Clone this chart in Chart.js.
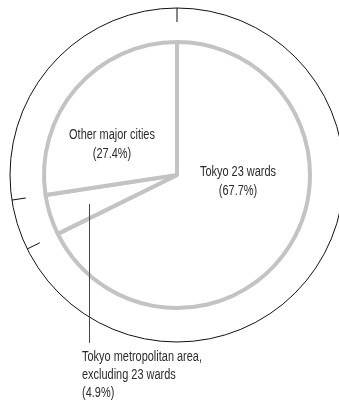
<!DOCTYPE html>
<html>
<head>
<meta charset="utf-8">
<script src="https://cdn.jsdelivr.net/npm/chart.js@4"></script>
<style>
  html, body { margin: 0; padding: 0; background: #fff; }
  canvas { display: block; }
</style>
</head>
<body>
<canvas id="shareChart" width="339" height="401"></canvas>
<script>
const categories = ['Tokyo 23 wards', 'Tokyo metropolitan area, excluding 23 wards', 'Other major cities'];
const shares = [67.7, 4.9, 27.4];
const labelLines = [
    ['Tokyo 23 wards', '(67.7%)'],
    ['Tokyo metropolitan area,', 'excluding 23 wards', '(4.9%)'],
    ['Other major cities', '(27.4%)']
];

const labelFont = '14px "Liberation Sans", Arial, sans-serif';

// draw text squeezed horizontally (reference uses a narrow face)
function narrowText(ctx, text, x, y, sx) {
    ctx.save();
    ctx.translate(x, y);
    ctx.scale(sx, 1);
    ctx.fillText(text, 0, 0);
    ctx.restore();
}

// outer ring with ticks at slice boundaries + text labels
const ringPlugin = {
    id: 'ring',
    afterDraw(chart) {
        const ctx = chart.ctx;
        const arcs = chart.getDatasetMeta(0).data;
        if (!arcs.length) return;
        const cx = arcs[0].x;
        const cy = arcs[0].y;
        const r = arcs[0].outerRadius + 34;

        ctx.save();
        ctx.strokeStyle = '#111';
        ctx.lineWidth = 1;
        ctx.beginPath();
        ctx.arc(cx, cy, r, 0, Math.PI * 2);
        ctx.stroke();

        arcs.forEach(arc => {
            const a = arc.startAngle;
            ctx.beginPath();
            ctx.moveTo(cx + Math.cos(a) * (r - 14), cy + Math.sin(a) * (r - 14));
            ctx.lineTo(cx + Math.cos(a) * r, cy + Math.sin(a) * r);
            ctx.stroke();
        });

        // leader line for the small slice
        ctx.strokeStyle = '#444';
        ctx.beginPath();
        ctx.moveTo(89.5, 204);
        ctx.lineTo(89.5, 343);
        ctx.stroke();

        ctx.fillStyle = '#2b2b2b';
        ctx.font = labelFont;
        ctx.textBaseline = 'middle';
        const sx = 120 / ctx.measureText(labelLines[1][0]).width;

        ctx.textAlign = 'center';
        labelLines[0].forEach((t, i) => narrowText(ctx, t, cx + 61, 172 + i * 19, sx));
        labelLines[2].forEach((t, i) => narrowText(ctx, t, cx - 65, 135 + i * 19, sx));

        ctx.textAlign = 'left';
        labelLines[1].forEach((t, i) => narrowText(ctx, t, 82, 357 + i * 18, sx));
        ctx.restore();
    }
};

new Chart(document.getElementById('shareChart'), {
    type: 'pie',
    data: {
        labels: categories,
        datasets: [{
            data: shares,
            backgroundColor: '#ffffff',
            borderColor: '#c3c3c3',
            borderWidth: 4,
            hoverOffset: 0
        }]
    },
    options: {
        responsive: false,
        animation: false,
        layout: {
            padding: { left: 42, right: 27, top: 40, bottom: 91 }
        },
        plugins: {
            legend: { display: false },
            tooltip: { enabled: false }
        }
    },
    plugins: [ringPlugin]
});
</script>
</body>
</html>
